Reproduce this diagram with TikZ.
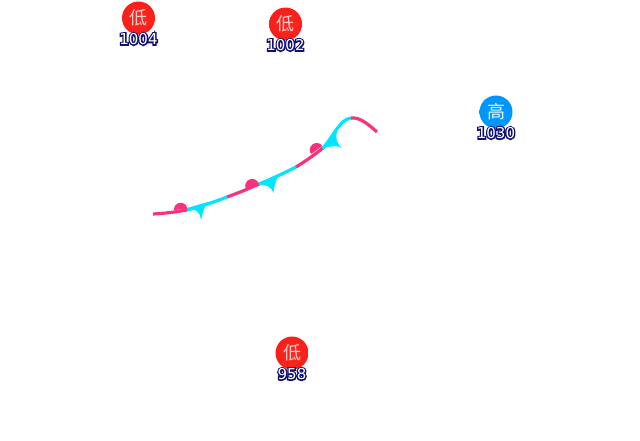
\documentclass[tikz,border=0pt]{standalone}
\usepackage{fontspec}
\setsansfont{DejaVu Sans}
\newfontfamily\cjkfont{Noto Sans CJK SC}
\usetikzlibrary{positioning}
\definecolor{FrontPink}{RGB}{250,50,125}
\definecolor{FrontCyan}{RGB}{0,230,255}
\pgfdeclareradialshading{lowball}{\pgfpoint{0bp}{0bp}}{%
  rgb(0bp)=(0.98,0.16,0.12);
  rgb(26bp)=(0.98,0.12,0.10);
  rgb(35bp)=(1,0.42,0.36);
  rgb(50bp)=(1,0.42,0.36)}
\pgfdeclareradialshading{highball}{\pgfpoint{0bp}{0bp}}{%
  rgb(0bp)=(0.0,0.62,1);
  rgb(26bp)=(0.0,0.58,0.98);
  rgb(35bp)=(0.30,0.76,1);
  rgb(50bp)=(0.30,0.76,1)}
\newcommand{\haloText}[1]{\rlap{\special{pdf:code q 2 Tr 2.8 w 0.06 0.06 0.43 RG}#1\special{pdf:code Q}}#1}

\begin{document}
\begin{tikzpicture}[x=1pt,y=-1pt,
  low style/.style={
    circle,
    inner sep=0pt,
    minimum size=33pt,
    shading=lowball,
    text=white!80!red,
    font=\fontsize{18}{18}\cjkfont,
  },
  high style/.style={
    circle,
    inner sep=0pt,
    minimum size=33pt,
    shading=highball,
    text=white!90!cyan,
    font=\fontsize{18}{18}\cjkfont,
  },
  value style/.style={
    inner sep=0pt,
    text=white,
    font=\fontsize{15}{15}\sffamily,
  },
  warm line/.style={FrontPink,line width=3.2pt},
  cold line/.style={FrontCyan,line width=3.2pt},
]
\useasboundingbox (0,0) rectangle (640,440);

\node[low style] (L1) at (138.5,18) {低};
\node[value style,below=12pt of L1.center,anchor=center,yshift=-9pt] (V1) {\haloText{1004}};

\node[low style] (L2) at (285.5,24) {低};
\node[value style,below=12pt of L2.center,anchor=center,yshift=-9pt] (V2) {\haloText{1002}};

\node[high style] (H1) at (496,112) {高};
\node[value style,below=12pt of H1.center,anchor=center,yshift=-9pt] (V3) {\haloText{1030}};

\node[low style] (L3) at (292,353) {低};
\node[value style,below=12pt of L3.center,anchor=center,yshift=-9pt] (V4) {\haloText{958}};

\coordinate (A) at (153,214);
\coordinate (B) at (187,210);
\coordinate (C) at (227,197);
\coordinate (D) at (259,184);
\coordinate (E) at (296,167);
\coordinate (F) at (323,148);
\coordinate (G) at (351,118);
\coordinate (K) at (377,132);

% front pieces
\draw[warm line] (A) to[bend right=3] (B);
\draw[cold line] (B) to[bend right=3] (C);
\draw[warm line] (C) to[bend right=2] (D);
\draw[cold line] (D) to[bend right=2] (E);
\draw[warm line] (E) to[bend right=3] (F);
\draw[cold line] (F) .. controls (333,137) and (340,119) .. (G);
\draw[warm line] (G) .. controls (359,117) and (367,123) .. (K);

% warm bumps
\fill[FrontPink] (174,210) arc[start angle=175,end angle=355,radius=6.7] -- cycle;
\fill[FrontPink] (245.6,188.3) arc[start angle=160,end angle=340,radius=7] -- cycle;
\fill[FrontPink] (311,154) arc[start angle=145,end angle=325,radius=7] -- cycle;

% cold barbs
\fill[FrontCyan] (187,208) .. controls (195,209) and (200,211) .. (201,220)
  .. controls (203,212) and (204,207) .. (208,202) -- cycle;
\fill[FrontCyan] (258,184) .. controls (266,185) and (271,186) .. (273.5,193)
  .. controls (274,187) and (275,182) .. (279,175) -- cycle;
\fill[FrontCyan] (322,149) .. controls (330,146) and (336,145) .. (342,148)
  .. controls (336,143) and (335,137) .. (338,128) -- cycle;

\end{tikzpicture}
\end{document}
